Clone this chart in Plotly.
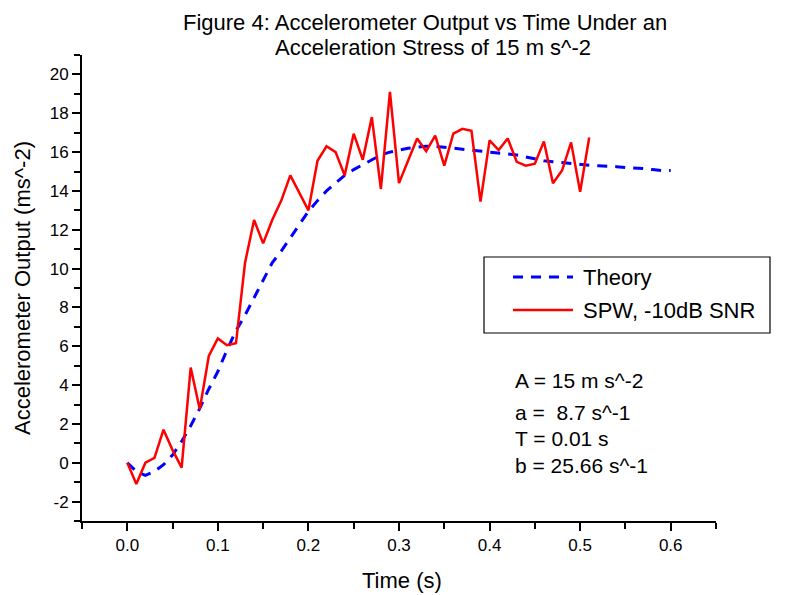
import plotly.graph_objects as go

# ---- data ----
spw_t = [round(i * 0.01, 2) for i in range(52)]
spw_v = [0.0, -1.1, 0.0, 0.25, 1.7, 0.65, -0.25, 4.9, 2.75, 5.5,
         6.4, 6.05, 6.15, 10.3, 12.5, 11.3, 12.5, 13.5, 14.8, 13.9,
         13.0, 15.55, 16.3, 16.0, 14.8, 16.95, 15.6, 17.8, 14.1, 19.1,
         14.4, 15.55, 16.7, 16.05, 16.85, 15.3, 16.95, 17.2, 17.1, 13.45,
         16.6, 16.1, 16.7, 15.5, 15.3, 15.4, 16.55, 14.4, 15.05, 16.5,
         13.95, 16.75]

theory_t = [round(i * 0.01, 2) for i in range(61)]
theory_v = [0.0, -0.45, -0.65, -0.45, -0.1, 0.4, 1.1, 1.9, 2.8, 3.8,
            4.7, 5.8, 6.8, 7.6, 8.5, 9.4, 10.3, 10.9, 11.6, 12.3,
            12.95, 13.5, 14.0, 14.4, 14.8, 15.1, 15.35, 15.6, 15.85, 16.0,
            16.1, 16.2, 16.25, 16.3, 16.3, 16.25, 16.2, 16.15, 16.1, 16.05,
            16.0, 15.95, 15.9, 15.85, 15.75, 15.65, 15.55, 15.5, 15.45, 15.4,
            15.35, 15.32, 15.3, 15.28, 15.25, 15.2, 15.18, 15.15, 15.1, 15.05,
            15.05]

x_tickvals = [0.0, 0.1, 0.2, 0.3, 0.4, 0.5, 0.6]
x_ticktext = ["0.0", "0.1", "0.2", "0.3", "0.4", "0.5", "0.6"]
y_tickvals = [-2, 0, 2, 4, 6, 8, 10, 12, 14, 16, 18, 20]
y_ticktext = ["-2", "0", "2", "4", "6", "8", "10", "12", "14", "16", "18", "20"]

title_lines = ["Figure 4: Accelerometer Output vs Time Under an", "Acceleration Stress of 15 m s^-2"]
axis_titles = ["Time (s)", "Accelerometer Output (ms^-2)"]
legend_names = ["Theory", "SPW, -10dB SNR"]
param_lines = ["A = 15 m s^-2", "a =  8.7 s^-1", "T = 0.01 s", "b = 25.66 s^-1"]

FONT = "Arial, Liberation Sans, sans-serif"
BLUE = "#0000ff"
RED = "#ff0000"

fig = go.Figure()
fig.add_trace(go.Scatter(x=theory_t, y=theory_v, mode="lines", name=legend_names[0],
                         line=dict(color=BLUE, width=3, dash="10px,8px"), showlegend=False))
fig.add_trace(go.Scatter(x=spw_t, y=spw_v, mode="lines", name=legend_names[1],
                         line=dict(color=RED, width=2.5), showlegend=False))

# plot area in pixels: left 82, right 716, top 55, bottom 521
L, R, T, B = 82, 716, 55, 521
W, H = 787, 595

def px(xp):
    return (xp - L) / (R - L)

def py(yp):
    return (B - yp) / (B - T)

shapes = [
    dict(type="rect", xref="paper", yref="paper", x0=px(484), x1=px(770), y0=py(333), y1=py(257),
         line=dict(color="black", width=1.2), fillcolor="white", layer="above"),
    dict(type="line", xref="paper", yref="paper", x0=px(513), x1=px(573), y0=py(277), y1=py(277),
         line=dict(color=BLUE, width=3, dash="10px,8px")),
    dict(type="line", xref="paper", yref="paper", x0=px(513), x1=px(573), y0=py(310), y1=py(310),
         line=dict(color=RED, width=2.5)),
]

annotations = []
for txt, xp, yp in zip(title_lines, [425, 433], [22, 47]):
    annotations.append(dict(text=txt, xref="paper", yref="paper", x=px(xp), y=py(yp),
                            xanchor="center", yanchor="middle", showarrow=False,
                            font=dict(size=22, color="black", family=FONT)))
for txt, yp in zip(legend_names, [277, 310]):
    annotations.append(dict(text=txt, xref="paper", yref="paper", x=px(581), y=py(yp),
                            xanchor="left", yanchor="middle", showarrow=False,
                            font=dict(size=22, color="black", family=FONT)))
for txt, yp in zip(param_lines, [380, 412, 438, 465]):
    annotations.append(dict(text=txt, xref="paper", yref="paper", x=px(513), y=py(yp),
                            xanchor="left", yanchor="middle", showarrow=False,
                            font=dict(size=21, color="black", family=FONT)))
# axis titles
annotations.append(dict(text=axis_titles[0], xref="paper", yref="paper", x=px(402), y=py(580),
                        xanchor="center", yanchor="middle", showarrow=False,
                        font=dict(size=22, color="black", family=FONT)))
annotations.append(dict(text=axis_titles[1], xref="paper", yref="paper", x=px(22), y=py(288),
                        xanchor="center", yanchor="middle", showarrow=False, textangle=-90,
                        font=dict(size=22, color="black", family=FONT)))

fig.update_layout(
    template="none",
    width=W, height=H,
    margin=dict(l=L, r=W - R, t=T, b=H - B, pad=0),
    paper_bgcolor="white", plot_bgcolor="white",
    font=dict(family=FONT, color="black", size=17),
    xaxis=dict(range=[-0.05, 0.65], tickvals=x_tickvals, ticktext=x_ticktext, automargin=False,
               ticks="outside", ticklen=8, tickwidth=2, tickcolor="black",
               minor=dict(dtick=0.05, tick0=0, ticks="outside", ticklen=6, tickwidth=2, tickcolor="black"),
               showline=True, linecolor="black", linewidth=2, showgrid=False, zeroline=False,
               tickfont=dict(size=17)),
    yaxis=dict(range=[-3, 21], tickvals=y_tickvals, ticktext=y_ticktext, automargin=False,
               ticks="outside", ticklen=8, tickwidth=2, tickcolor="black",
               minor=dict(dtick=1, tick0=0, ticks="outside", ticklen=6, tickwidth=2, tickcolor="black"),
               showline=True, linecolor="black", linewidth=2, showgrid=False, zeroline=False,
               tickfont=dict(size=17)),
    shapes=shapes, annotations=annotations, showlegend=False,
)

fig.write_html("out.html")
